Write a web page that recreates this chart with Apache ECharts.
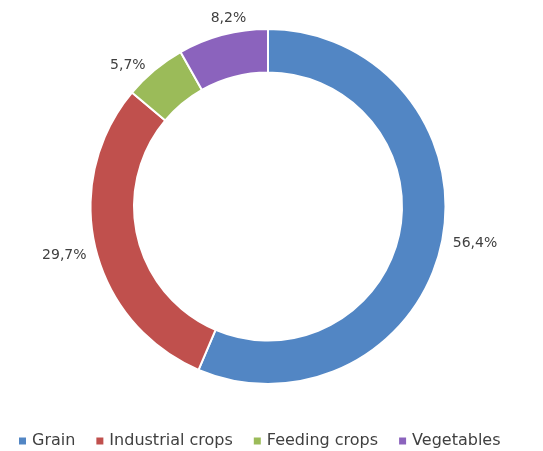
<!DOCTYPE html>
<html>
<head>
<meta charset="utf-8">
<script src="https://cdn.jsdelivr.net/npm/echarts@6/dist/echarts.min.js"></script>
<style>
html,body{margin:0;padding:0;background:#fff;}
#chart{width:543px;height:451px;}
</style>
</head>
<body>
<div id="chart"></div>
<script>
var categories = ["Grain", "Industrial crops", "Feeding crops", "Vegetables"];
var values = [56.4, 29.7, 5.7, 8.2];
var colors = ["#5286C4", "#C0504D", "#9BBB59", "#8B63BD"];

var chart = echarts.init(document.getElementById('chart'));
chart.setOption({
  animation: false,
  color: colors,
  legend: {
    top: 428,
    left: 12,
    icon: 'rect',
    itemWidth: 9,
    itemHeight: 9,
    itemGap: 19,
    textStyle: { fontFamily: 'DejaVu Sans', fontSize: 16, color: '#404040' },
    data: categories
  },
  series: [{
    type: 'pie',
    center: [268, 206.5],
    radius: [134, 177.5],
    startAngle: 90,
    clockwise: true,
    avoidLabelOverlap: false,
    itemStyle: { borderColor: '#fff', borderWidth: 2 },
    label: {
      show: true,
      position: 'outside',
      fontFamily: 'DejaVu Sans',
      fontSize: 14,
      color: '#404040',
      formatter: function (p) { return p.value.toFixed(1).replace('.', ',') + '%'; }
    },
    labelLine: { show: false, length: 6, length2: 0 },
    labelLayout: function (p) {
      if (p.dataIndex === 3) { return { dx: 30, dy: -11 }; }
      if (p.dataIndex === 1) { return { dx: 2, dy: 6 }; }
      return {};
    },
    data: categories.map(function (c, i) { return { name: c, value: values[i] }; })
  }]
});
</script>
</body>
</html>
